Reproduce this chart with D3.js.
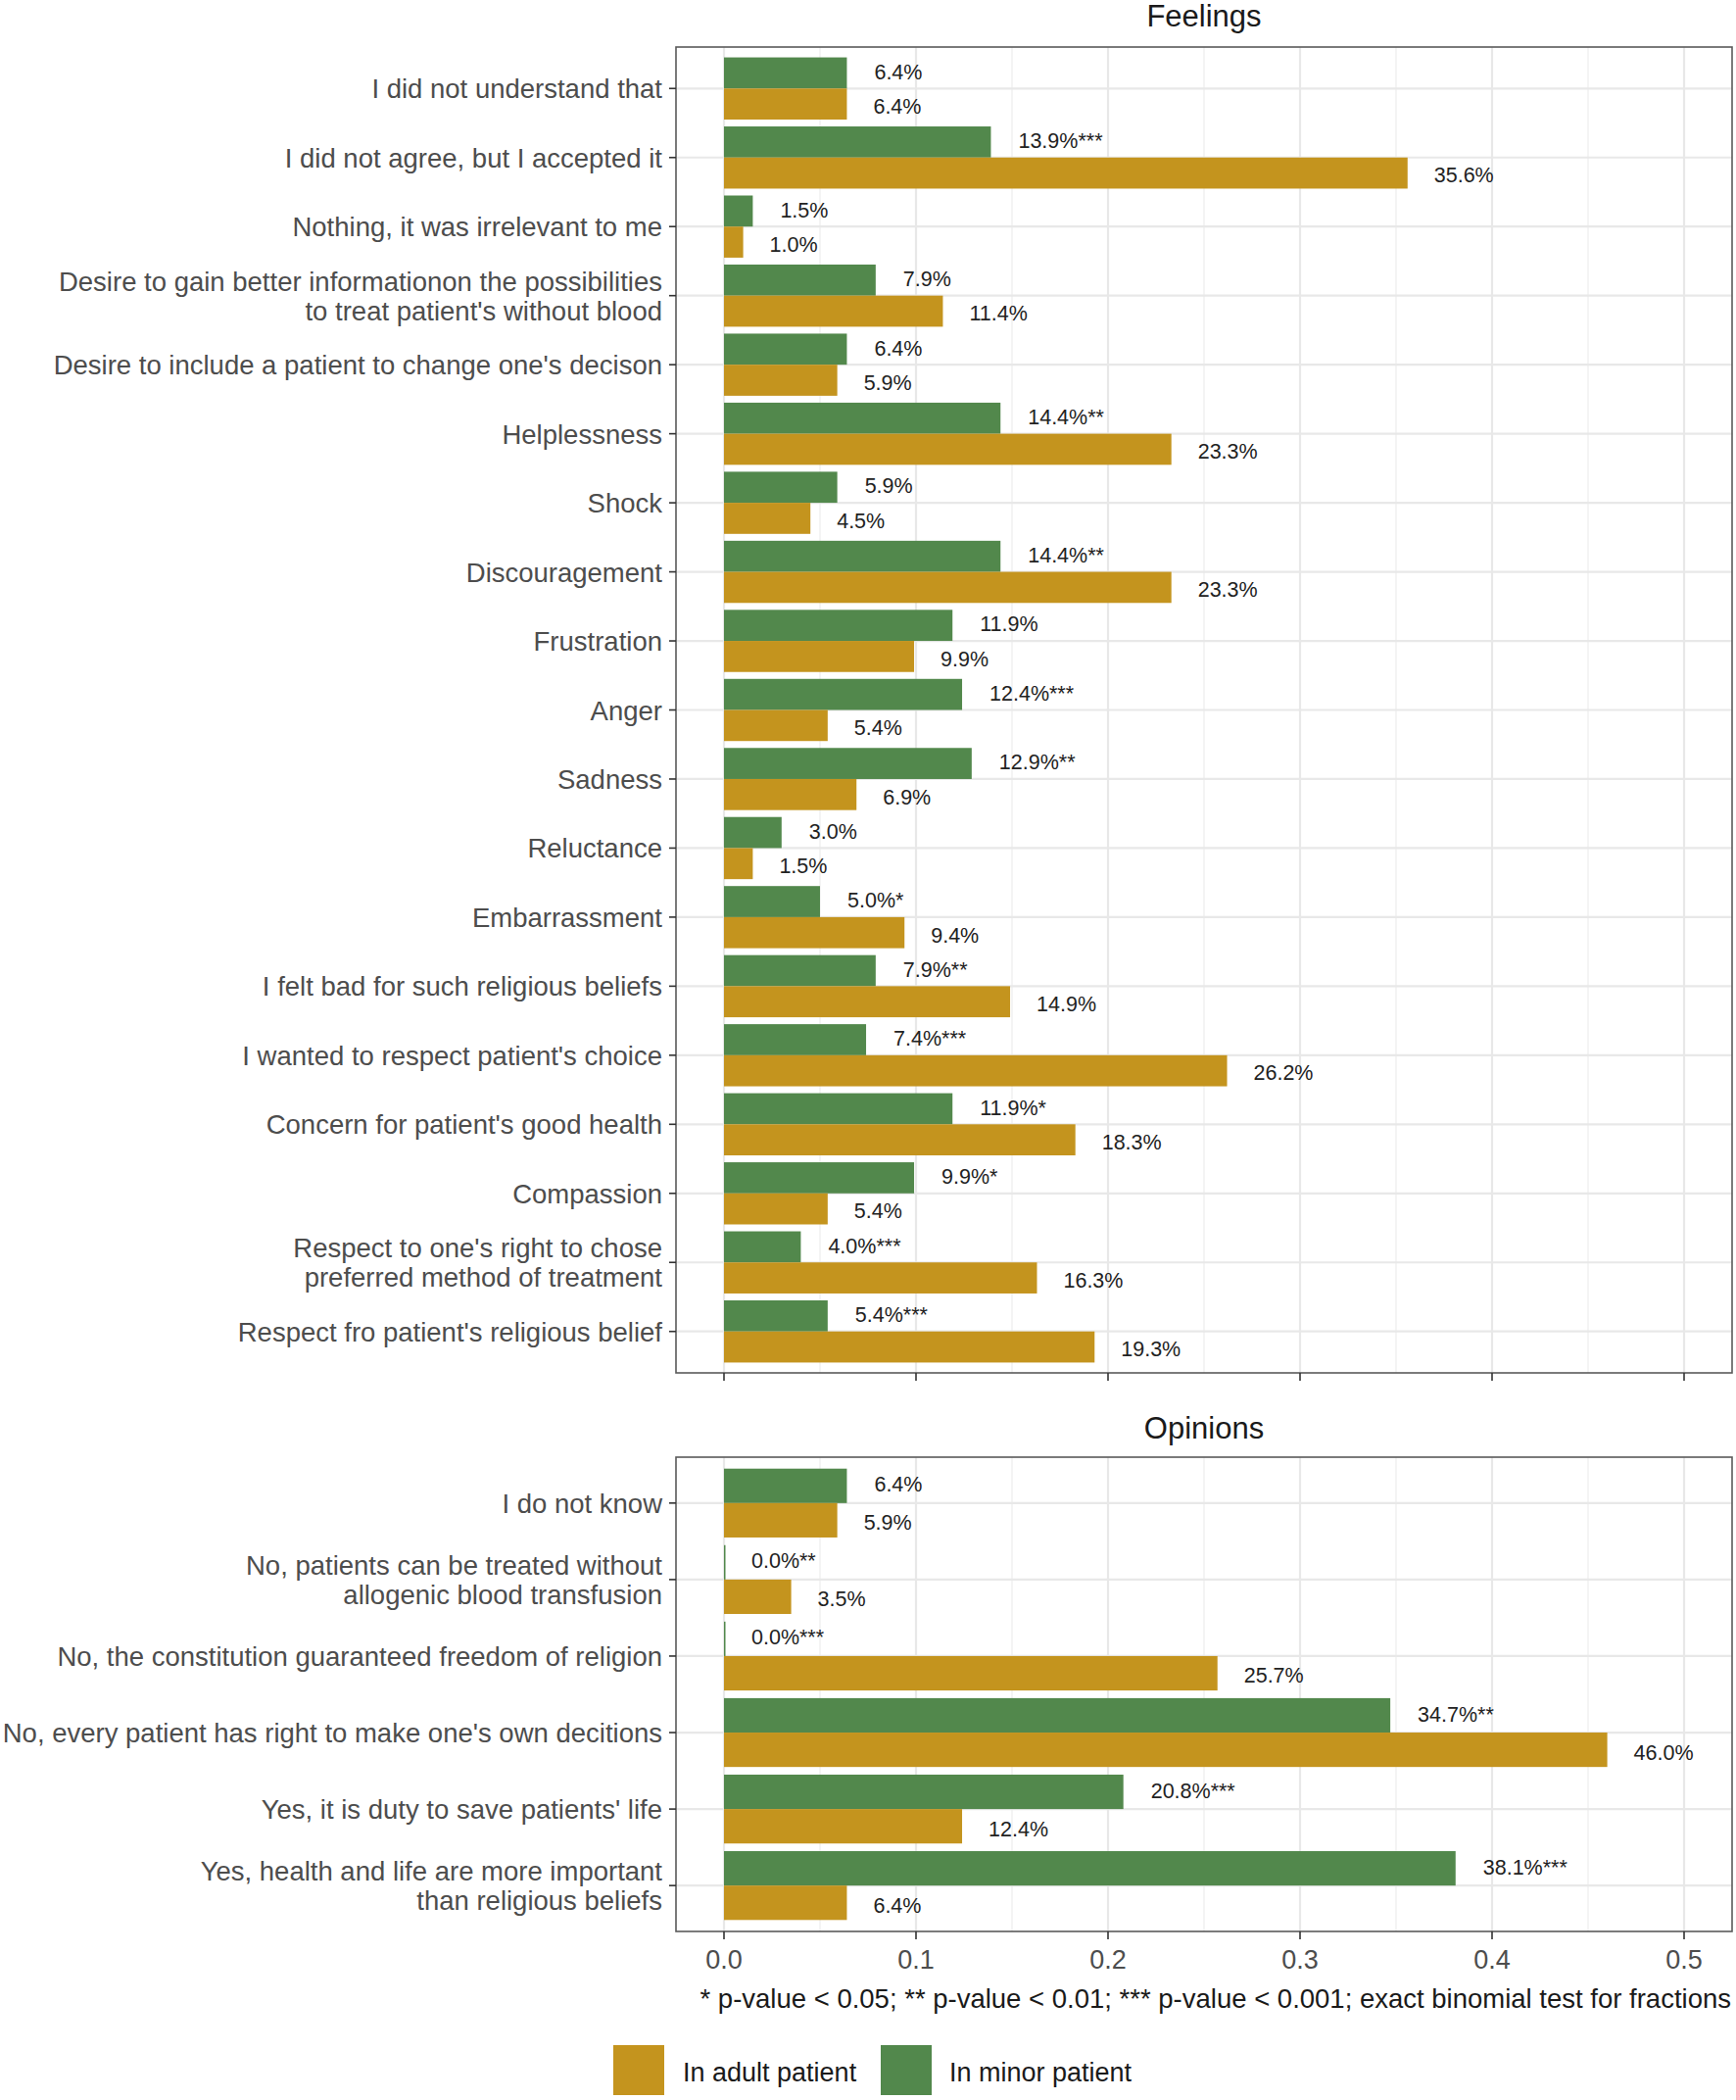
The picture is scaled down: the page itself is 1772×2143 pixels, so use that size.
<!DOCTYPE html>
<html><head><meta charset="utf-8">
<script src="https://cdn.jsdelivr.net/npm/d3@7"></script>
<style>body{margin:0;background:#fff}</style>
</head><body><svg id="c" width="1772" height="2143" xmlns="http://www.w3.org/2000/svg"></svg>
<script>
const feelingsCategories = [
  "I did not understand that",
  "I did not agree, but I accepted it",
  "Nothing, it was irrelevant to me",
  "Desire to gain better informationon the possibilities\nto treat patient's without blood",
  "Desire to include a patient to change one's decison",
  "Helplessness",
  "Shock",
  "Discouragement",
  "Frustration",
  "Anger",
  "Sadness",
  "Reluctance",
  "Embarrassment",
  "I felt bad for such religious beliefs",
  "I wanted to respect patient's choice",
  "Concern for patient's good health",
  "Compassion",
  "Respect to one's right to chose\npreferred method of treatment",
  "Respect fro patient's religious belief"
];
const feelingsMinor = [6.4, 13.9, 1.5, 7.9, 6.4, 14.4, 5.9, 14.4, 11.9, 12.4, 12.9, 3.0, 5.0, 7.9, 7.4, 11.9, 9.9, 4.0, 5.4];
const feelingsMinorSig = ["", "***", "", "", "", "**", "", "**", "", "***", "**", "", "*", "**", "***", "*", "*", "***", "***"];
const feelingsAdult = [6.4, 35.6, 1.0, 11.4, 5.9, 23.3, 4.5, 23.3, 9.9, 5.4, 6.9, 1.5, 9.4, 14.9, 26.2, 18.3, 5.4, 16.3, 19.3];

const opinionsCategories = [
  "I do not know",
  "No, patients can be treated without\nallogenic blood transfusion",
  "No, the constitution guaranteed freedom of religion",
  "No, every patient has right to make one's own decitions",
  "Yes, it is duty to save patients' life",
  "Yes, health and life are more important\nthan religious beliefs"
];
const opinionsMinor = [6.4, 0.0, 0.0, 34.7, 20.8, 38.1];
const opinionsMinorSig = ["", "**", "***", "**", "***", "***"];
const opinionsAdult = [5.9, 3.5, 25.7, 46.0, 12.4, 6.4];

const xTicks = [0, 0.1, 0.2, 0.3, 0.4, 0.5];
const xMinor = [0.05, 0.15, 0.25, 0.35, 0.45];
const seriesNames = ["In adult patient", "In minor patient"];
const footnote = "* p-value < 0.05; ** p-value < 0.01; *** p-value < 0.001; exact binomial test for fractions";

const COL_ADULT = "#c4941e";
const COL_MINOR = "#52884c";
const FONT = "'Liberation Sans', Arial, Helvetica, sans-serif";

const svg = d3.select("#c").style("font-family", FONT);
const x = d3.scaleLinear().domain([-0.025, 0.525]).range([690, 1768]);

function panel(opts) {
  const {top, bottom, cats, minor, sig, adult, title, titleY, labels} = opts;
  const g = svg.append("g");
  const y = d3.scalePoint().domain(cats).range([top, bottom]).padding(0.6);
  const step = y.step();
  const half = step * 0.45;

  g.append("text").attr("x", (x.range()[0] + x.range()[1]) / 2).attr("y", titleY)
    .attr("text-anchor", "middle").attr("font-size", 31).attr("fill", "#1a1a1a").text(title);

  g.selectAll(".gminor").data(xMinor).join("line")
    .attr("x1", d => x(d)).attr("x2", d => x(d)).attr("y1", top).attr("y2", bottom)
    .attr("stroke", "#f0f0f0").attr("stroke-width", 1.4);
  g.selectAll(".gmajor").data(xTicks).join("line")
    .attr("x1", d => x(d)).attr("x2", d => x(d)).attr("y1", top).attr("y2", bottom)
    .attr("stroke", "#e8e8e8").attr("stroke-width", 2.2);
  g.selectAll(".hmajor").data(cats).join("line")
    .attr("x1", x.range()[0]).attr("x2", x.range()[1]).attr("y1", d => y(d)).attr("y2", d => y(d))
    .attr("stroke", "#e8e8e8").attr("stroke-width", 2.2);

  const rows = cats.map((c, i) => ({c, minor: minor[i], adult: adult[i], sig: sig[i]}));

  g.selectAll(".bm").data(rows).join("rect")
    .attr("x", x(0)).attr("y", d => y(d.c) - half)
    .attr("width", d => Math.max(1.5, x(d.minor / 100) - x(0))).attr("height", half)
    .attr("fill", COL_MINOR);
  g.selectAll(".ba").data(rows).join("rect")
    .attr("x", x(0)).attr("y", d => y(d.c))
    .attr("width", d => Math.max(1.5, x(d.adult / 100) - x(0))).attr("height", half)
    .attr("fill", COL_ADULT);

  g.selectAll(".lm").data(rows).join("text")
    .attr("x", d => x(d.minor / 100) + 28).attr("y", d => y(d.c) - step / 4 + 8)
    .attr("font-size", 21.5).attr("fill", "#222")
    .text(d => d.minor.toFixed(1) + "%" + d.sig);
  g.selectAll(".la").data(rows).join("text")
    .attr("x", d => x(d.adult / 100) + 27).attr("y", d => y(d.c) + step / 4 + 8)
    .attr("font-size", 21.5).attr("fill", "#222")
    .text(d => d.adult.toFixed(1) + "%");

  g.append("rect").attr("x", x.range()[0]).attr("y", top)
    .attr("width", x.range()[1] - x.range()[0]).attr("height", bottom - top)
    .attr("fill", "none").attr("stroke", "#5a5a5a").attr("stroke-width", 1.6);

  const yl = g.selectAll(".yl").data(cats).join("g");
  yl.append("line").attr("x1", x.range()[0] - 7).attr("x2", x.range()[0])
    .attr("y1", d => y(d)).attr("y2", d => y(d)).attr("stroke", "#333").attr("stroke-width", 1.6);
  yl.each(function(d) {
    const lines = d.split("\n");
    const n = lines.length;
    const t = d3.select(this).append("text").attr("text-anchor", "end")
      .attr("font-size", 27.5).attr("fill", "#4d4d4d");
    lines.forEach((ln, i) => {
      t.append("tspan").attr("x", 676)
        .attr("y", y(d) + 10 + (i - (n - 1) / 2) * 30).text(ln);
    });
  });

  g.selectAll(".xt").data(xTicks).join("line")
    .attr("x1", d => x(d)).attr("x2", d => x(d)).attr("y1", bottom).attr("y2", bottom + 8)
    .attr("stroke", "#333").attr("stroke-width", 1.6);
  if (labels) {
    g.selectAll(".xl").data(xTicks).join("text")
      .attr("x", d => x(d)).attr("y", bottom + 38).attr("text-anchor", "middle")
      .attr("font-size", 27).attr("fill", "#4d4d4d").text(d => d3.format(".1f")(d));
  }
}

panel({top: 48, bottom: 1401, cats: feelingsCategories, minor: feelingsMinor, sig: feelingsMinorSig,
  adult: feelingsAdult, title: "Feelings", titleY: 27, labels: false});
panel({top: 1487, bottom: 1971, cats: opinionsCategories, minor: opinionsMinor, sig: opinionsMinorSig,
  adult: opinionsAdult, title: "Opinions", titleY: 1468, labels: true});

svg.append("text").attr("x", 1767).attr("y", 2049).attr("text-anchor", "end")
  .attr("font-size", 27.5).attr("fill", "#1a1a1a").text(footnote);

const legendItems = [
  {name: seriesNames[0], color: COL_ADULT, kx: 626, tx: 697},
  {name: seriesNames[1], color: COL_MINOR, kx: 899, tx: 969}
];
const lg = svg.append("g");
lg.selectAll("rect").data(legendItems).join("rect")
  .attr("x", d => d.kx).attr("y", 2087).attr("width", 52).attr("height", 51)
  .attr("fill", d => d.color);
lg.selectAll("text").data(legendItems).join("text")
  .attr("x", d => d.tx).attr("y", 2124).attr("font-size", 27).attr("fill", "#1a1a1a")
  .text(d => d.name);
</script></body></html>
